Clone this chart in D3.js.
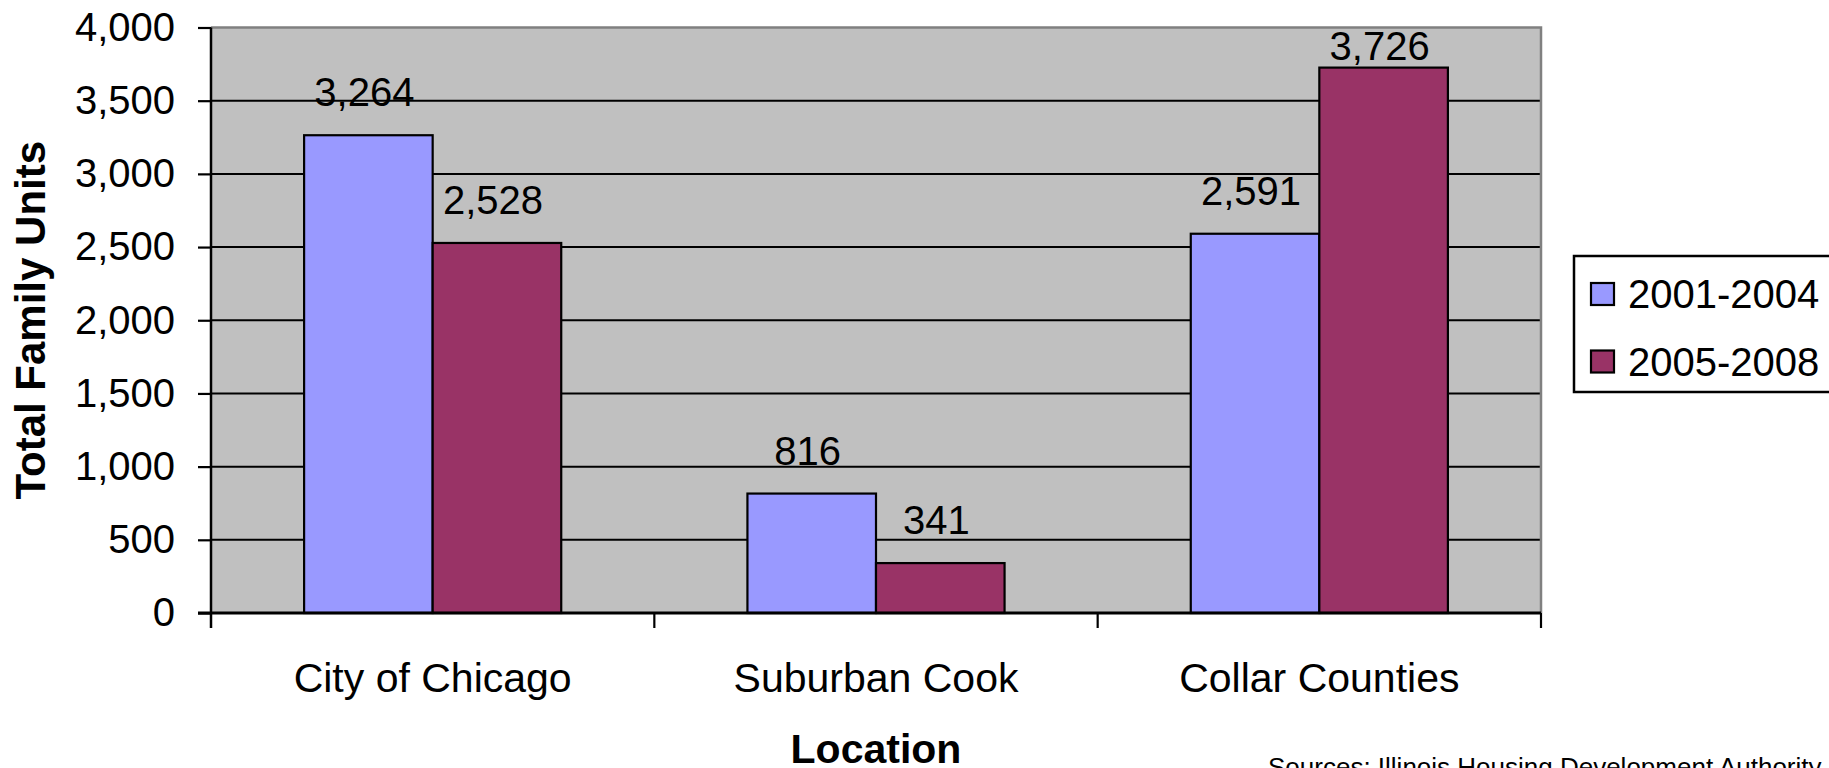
<!DOCTYPE html>
<html>
<head>
<meta charset="utf-8">
<script src="https://cdn.jsdelivr.net/npm/d3@7"></script>
<style>
  html, body { margin: 0; padding: 0; background: #fff; }
  svg { display: block; font-family: "Liberation Sans", Arial, sans-serif; }
</style>
</head>
<body>
<svg id="chart" width="1829" height="768"></svg>
<script>
// Total family units by location, two periods
const categories = ["City of Chicago", "Suburban Cook", "Collar Counties"];
const seriesNames = ["2001-2004", "2005-2008"];
const units2001to2004 = [3264, 816, 2591];
const units2005to2008 = [2528, 341, 3726];
const yTickValues = [0, 500, 1000, 1500, 2000, 2500, 3000, 3500, 4000];
const seriesColors = ["#9999FF", "#993366"];

const W = 1829, H = 768;
const plot = { left: 211, right: 1541, top: 27.5, bottom: 613 };

const svg = d3.select("#chart");

const x0 = d3.scaleBand()
  .domain(categories)
  .range([plot.left, plot.right])
  .paddingInner(0.42)
  .paddingOuter(0.21);

const x1 = d3.scaleBand()
  .domain(seriesNames)
  .range([0, x0.bandwidth()]);

const y = d3.scaleLinear()
  .domain([0, 4000])
  .range([plot.bottom, plot.top]);

const color = d3.scaleOrdinal().domain(seriesNames).range(seriesColors);

// plot background
svg.append("rect")
  .attr("x", plot.left).attr("y", plot.top)
  .attr("width", plot.right - plot.left)
  .attr("height", plot.bottom - plot.top)
  .attr("fill", "#C0C0C0");

// horizontal gridlines
svg.append("g")
  .selectAll("line")
  .data(yTickValues.filter(d => d > 0 && d < 4000))
  .join("line")
  .attr("x1", plot.left).attr("x2", plot.right)
  .attr("y1", d => y(d)).attr("y2", d => y(d))
  .attr("stroke", "#000").attr("stroke-width", 2);

// plot frame (top and right)
svg.append("path")
  .attr("d", `M${plot.left},${plot.top}H${plot.right}V${plot.bottom}`)
  .attr("fill", "none")
  .attr("stroke", "#808080")
  .attr("stroke-width", 2.5);

// bars
const rows = categories.map((c, i) => ({
  category: c,
  values: [
    { series: seriesNames[0], value: units2001to2004[i] },
    { series: seriesNames[1], value: units2005to2008[i] }
  ]
}));

const groups = svg.append("g")
  .selectAll("g")
  .data(rows)
  .join("g")
  .attr("transform", d => `translate(${x0(d.category)},0)`);

groups.selectAll("rect")
  .data(d => d.values)
  .join("rect")
  .attr("x", d => x1(d.series))
  .attr("y", d => y(d.value))
  .attr("width", x1.bandwidth())
  .attr("height", d => y(0) - y(d.value))
  .attr("fill", d => color(d.series))
  .attr("stroke", "#000")
  .attr("stroke-width", 2.2);

// value labels
const fmt = d3.format(",");
groups.selectAll("text")
  .data(d => d.values)
  .join("text")
  .attr("x", d => x1(d.series) + x1.bandwidth() / 2 - 4)
  .attr("y", d => Math.max(y(d.value) - 29, plot.top + 32))
  .attr("text-anchor", "middle")
  .attr("font-size", 40)
  .attr("fill", "#000")
  .text(d => fmt(d.value));

// y axis
const yAxis = d3.axisLeft(y)
  .tickValues(yTickValues)
  .tickSize(13)
  .tickPadding(23)
  .tickFormat(fmt);

const gy = svg.append("g")
  .attr("transform", `translate(${plot.left},0)`)
  .call(yAxis);
gy.select(".domain").remove();
gy.selectAll(".tick line").attr("stroke", "#000").attr("stroke-width", 2.2);
gy.selectAll(".tick text")
  .attr("font-size", 40)
  .attr("font-family", "Liberation Sans, Arial, sans-serif")
  .attr("fill", "#000");

// left axis line (runs down past the baseline like a tick)
svg.append("line")
  .attr("x1", plot.left).attr("x2", plot.left)
  .attr("y1", plot.top).attr("y2", plot.bottom + 15)
  .attr("stroke", "#000").attr("stroke-width", 2.5);

// x axis baseline
svg.append("line")
  .attr("x1", plot.left - 13).attr("x2", plot.right)
  .attr("y1", y(0)).attr("y2", y(0))
  .attr("stroke", "#000").attr("stroke-width", 3);

// category separator ticks
const boundaries = categories.map(c => x0(c) - x0.step() * x0.paddingOuter() + x0.step());
svg.append("g")
  .selectAll("line")
  .data(boundaries)
  .join("line")
  .attr("x1", d => d).attr("x2", d => d)
  .attr("y1", y(0)).attr("y2", y(0) + 15)
  .attr("stroke", "#000").attr("stroke-width", 2.2);

// category labels
svg.append("g")
  .selectAll("text")
  .data(categories)
  .join("text")
  .attr("x", d => x0(d) + x0.bandwidth() / 2)
  .attr("y", y(0) + 79)
  .attr("text-anchor", "middle")
  .attr("font-size", 41)
  .attr("fill", "#000")
  .text(d => d);

// axis titles
svg.append("text")
  .attr("x", (plot.left + plot.right) / 2)
  .attr("y", 763)
  .attr("text-anchor", "middle")
  .attr("font-size", 41)
  .attr("font-weight", "bold")
  .text("Location");

svg.append("text")
  .attr("transform", `translate(45,${(plot.top + plot.bottom) / 2}) rotate(-90)`)
  .attr("text-anchor", "middle")
  .attr("font-size", 42)
  .attr("font-weight", "bold")
  .text("Total Family Units");

// legend
const legend = svg.append("g");
legend.append("rect")
  .attr("x", 1574).attr("y", 256)
  .attr("width", 270).attr("height", 136)
  .attr("fill", "#fff")
  .attr("stroke", "#000").attr("stroke-width", 2.5);

const items = legend.selectAll("g.item")
  .data(seriesNames)
  .join("g")
  .attr("class", "item")
  .attr("transform", (d, i) => `translate(1591,${283 + i * 67.5})`);

items.append("rect")
  .attr("width", 23).attr("height", 22)
  .attr("fill", d => color(d))
  .attr("stroke", "#000").attr("stroke-width", 2.2);

items.append("text")
  .attr("x", 37)
  .attr("y", 25)
  .attr("font-size", 40)
  .attr("fill", "#000")
  .text(d => d);

// source note
svg.append("text")
  .attr("x", 1268)
  .attr("y", 776)
  .attr("font-size", 26)
  .attr("fill", "#000")
  .text("Sources: Illinois Housing Development Authority");
</script>
</body>
</html>
